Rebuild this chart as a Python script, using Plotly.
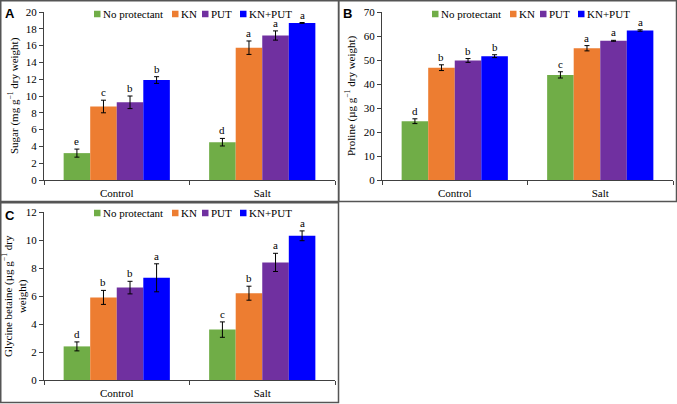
import plotly.graph_objects as go

W, H = 677, 404

categories = ["Control", "Salt"]
treatments = ["No protectant", "KN", "PUT", "KN+PUT"]
colors = ["#70AD47", "#ED7D31", "#7030A0", "#0000FF"]

# one row per treatment, values for [Control, Salt]
sugar = [[3.2, 4.5], [8.75, 15.75], [9.25, 17.2], [11.9, 18.7]]
sugar_err = [[0.48, 0.45], [0.75, 0.8], [0.75, 0.55], [0.4, 0.05]]
sugar_letters = [["e", "d"], ["c", "a"], ["b", "a"], ["b", "a"]]

proline = [[24.5, 43.8], [46.8, 54.9], [49.8, 58.0], [51.6, 62.3]]
proline_err = [[1.0, 1.3], [1.2, 1.1], [0.8, 0.2], [0.6, 0.3]]
proline_letters = [["d", "c"], ["b", "a"], ["b", "a"], ["b", "a"]]

glycine = [[2.4, 3.6], [5.9, 6.2], [6.6, 8.4], [7.3, 10.3]]
glycine_err = [[0.32, 0.55], [0.5, 0.5], [0.45, 0.65], [1.0, 0.35]]
glycine_letters = [["d", "c"], ["b", "b"], ["b", "a"], ["a", "a"]]

SERIF = "Liberation Serif"
BARGAP = 0.27


def px(x):
    return x / W


def py(y):
    return 1 - y / H


panels = [
    dict(tag="A", ax="", vals=sugar, err=sugar_err, letters=sugar_letters,
         title="Sugar (mg g<sup>−1</sup> dry weight)", title_x=13, ymax=20, dtick=2,
         xd=(44, 335), yd=(12, 180), origin=(0, 0), leg_y=14),
    dict(tag="B", ax="2", vals=proline, err=proline_err, letters=proline_letters,
         title="Proline (µg g<sup>−1</sup> dry weight)", title_x=350, ymax=70, dtick=10,
         xd=(382, 673), yd=(12, 180), origin=(338, 0), leg_y=14),
    dict(tag="C", ax="3", vals=glycine, err=glycine_err, letters=glycine_letters,
         title="Glycine betaine (µg g<sup>−1</sup> dry<br>weight)", title_x=14, ymax=12, dtick=2,
         xd=(44, 335), yd=(212, 380), origin=(0, 202), leg_y=213),
]

fig = go.Figure()
annotations = []
shapes = []
layout_axes = {}
w = (1 - BARGAP) / len(treatments)

for p in panels:
    xa, ya = "x" + p["ax"], "y" + p["ax"]
    for i, name in enumerate(treatments):
        fig.add_trace(go.Bar(
            x=categories, y=p["vals"][i], name=name,
            marker=dict(color=colors[i], line=dict(width=0)),
            error_y=dict(type="data", array=p["err"][i], color="black", thickness=1, width=2.5),
            xaxis=xa, yaxis=ya, showlegend=False,
        ))
        # significance letters above the error bars
        for j, cat in enumerate(categories):
            annotations.append(dict(
                x=j + (i - 1.5) * w, y=p["vals"][i][j] + p["err"][i][j],
                xref=xa, yref=ya, text=p["letters"][i][j], showarrow=False,
                yanchor="bottom", yshift=0, font=dict(family=SERIF, size=11, color="black"),
            ))

    axis_line = dict(showline=True, linecolor="#404040", linewidth=1, ticks="outside",
                     ticklen=4, tickcolor="#404040", showgrid=False, zeroline=False,
                     automargin=False, tickfont=dict(family=SERIF, size=11, color="black"))
    layout_axes["xaxis" + p["ax"]] = dict(
        axis_line, domain=[px(p["xd"][0]), px(p["xd"][1])], anchor=ya,
        type="category", tickson="boundaries", range=[-0.5, 1.5], ticklabelstandoff=3)
    layout_axes["yaxis" + p["ax"]] = dict(
        axis_line, domain=[py(p["yd"][1]), py(p["yd"][0])], anchor=xa,
        range=[0, p["ymax"]], dtick=p["dtick"])

    # y-axis title
    annotations.append(dict(x=px(p["title_x"]), y=py((p["yd"][0] + p["yd"][1]) / 2),
                            xref="paper", yref="paper", textangle=-90, showarrow=False,
                            text=p["title"], xanchor="center", yanchor="middle",
                            font=dict(family=SERIF, size=11, color="black")))

    ox, oy = p["origin"]
    # panel letter
    annotations.append(dict(x=px(ox + 3), y=py(oy + 4), xref="paper", yref="paper",
                            xanchor="left", yanchor="top", showarrow=False, text="<b>" + p["tag"] + "</b>",
                            font=dict(family="Liberation Sans", size=13, color="black")))
    # panel frame
    shapes.append(dict(type="rect", xref="paper", yref="paper",
                       x0=px(ox + 0.75), x1=px(ox + 338.5), y0=py(min(oy + 201.5, H - 1.5)), y1=py(oy + 0.75),
                       line=dict(color="#555555", width=1.5), fillcolor="rgba(0,0,0,0)"))
    # legend: swatches + labels
    sw_x = [94, 172, 202, 240]
    lb_x = [102, 180, 210, 248]
    ly = p["leg_y"]
    for i, name in enumerate(treatments):
        shapes.append(dict(type="rect", xref="paper", yref="paper",
                           x0=px(ox + sw_x[i]), x1=px(ox + sw_x[i] + 6.5),
                           y0=py(ly + 3.25), y1=py(ly - 3.25),
                           line=dict(width=0), fillcolor=colors[i]))
        annotations.append(dict(x=px(ox + lb_x[i]), y=py(ly), xref="paper", yref="paper",
                                xanchor="left", yanchor="middle", showarrow=False, text=name,
                                xshift=-1, font=dict(family=SERIF, size=11, color="black")))

fig.update_layout(
    width=W, height=H, margin=dict(l=0, r=0, t=0, b=0),
    paper_bgcolor="white", plot_bgcolor="white",
    barmode="group", bargap=BARGAP, bargroupgap=0,
    showlegend=False, annotations=annotations, shapes=shapes,
    font=dict(family=SERIF, size=11, color="black"),
    **layout_axes,
)

fig.write_html("out.html", config={"displayModeBar": False},
               post_script="document.body.style.margin='0';")
